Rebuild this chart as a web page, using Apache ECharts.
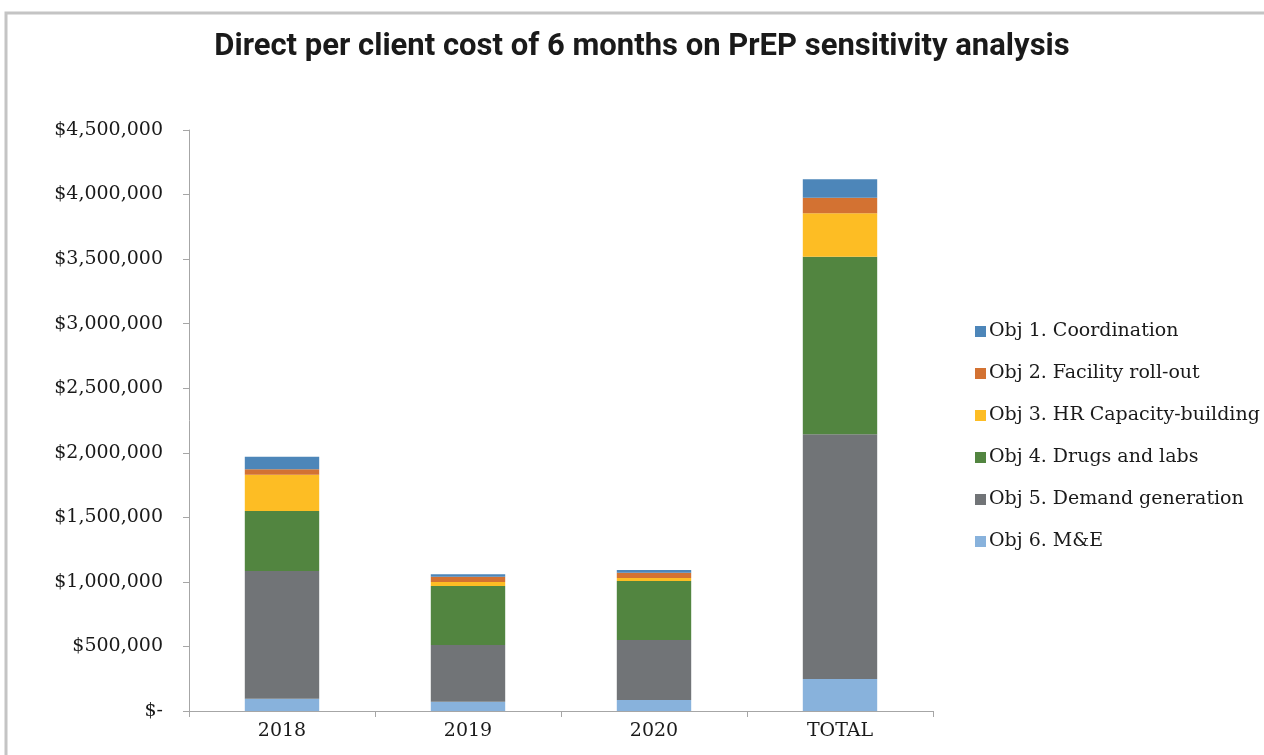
<!DOCTYPE html>
<html>
<head>
<meta charset="utf-8">
<script src="https://cdn.jsdelivr.net/npm/echarts@6/dist/echarts.min.js"></script>
<style>
  html, body { margin: 0; padding: 0; background: #fff; }
  #chart { width: 1264px; height: 755px; }
</style>
</head>
<body>
<div id="chart"></div>
<script>
// categories
const years = ["2018", "2019", "2020", "TOTAL"];

// values per objective (USD)
const objCoordination = [98000, 19000, 21000, 142000];
const objFacility = [42000, 41000, 41000, 121000];
const objHR = [281000, 31000, 23000, 336000];
const objDrugs = [465000, 457000, 457000, 1376000];
const objDemand = [989000, 439000, 465000, 1895000];
const objME = [95000, 72000, 85000, 248000];

const legendNames = [
  "Obj 1. Coordination",
  "Obj 2. Facility roll-out",
  "Obj 3. HR Capacity-building",
  "Obj 4. Drugs and labs",
  "Obj 5. Demand generation",
  "Obj 6. M&E"
];

const serif = "DejaVu Serif";

function money(v) {
  if (v === 0) return "$-";
  return "$" + v.toLocaleString("en-US");
}

// bottom to top
function bar(name, data, color) {
  return {
    name: name,
    type: "bar",
    stack: "cost",
    barWidth: "40%",
    data: data,
    itemStyle: { color: color }
  };
}

let ec = echarts.init(document.getElementById("chart"));
ec.setOption({
  animation: false,
  title: {
    text: "Direct per client cost of 6 months on PrEP sensitivity analysis",
    left: 637,
    textAlign: "center",
    top: 27,
    textStyle: { fontFamily: "Roboto", fontWeight: "bold", fontSize: 31, color: "#1a1a1a" }
  },
  graphic: [
    {
      type: "rect",
      shape: { x: 6, y: 13, width: 1400, height: 900 },
      style: { fill: "none", stroke: "#c4c4c4", lineWidth: 3 },
      silent: true
    }
  ],
  legend: {
    orient: "vertical",
    left: 970,
    top: 317,
    itemWidth: 11,
    itemHeight: 11,
    itemGap: 23,
    icon: "rect",
    data: legendNames,
    textStyle: { fontFamily: serif, fontSize: 19, color: "#1a1a1a", padding: [0, 0, 0, -2] }
  },
  grid: { left: 189, right: 331, top: 130, bottom: 44 },
  xAxis: {
    type: "category",
    data: years,
    axisLine: { lineStyle: { color: "#a6a6a6", width: 1 } },
    axisTick: { show: true, length: 6, lineStyle: { color: "#a6a6a6" } },
    axisLabel: { fontFamily: serif, fontSize: 19, color: "#1a1a1a", margin: 11 }
  },
  yAxis: {
    type: "value",
    min: 0,
    max: 4500000,
    interval: 500000,
    splitLine: { show: false },
    axisLine: { show: true, lineStyle: { color: "#a6a6a6", width: 1 } },
    axisTick: { show: true, length: 6, lineStyle: { color: "#a6a6a6" } },
    axisLabel: { fontFamily: serif, fontSize: 19, color: "#1a1a1a", margin: 26, formatter: money }
  },
  series: [
    bar(legendNames[5], objME, "#88b2dc"),
    bar(legendNames[4], objDemand, "#717477"),
    bar(legendNames[3], objDrugs, "#528540"),
    bar(legendNames[2], objHR, "#fdbd24"),
    bar(legendNames[1], objFacility, "#d37232"),
    bar(legendNames[0], objCoordination, "#4d86b9")
  ]
});
</script>
</body>
</html>
